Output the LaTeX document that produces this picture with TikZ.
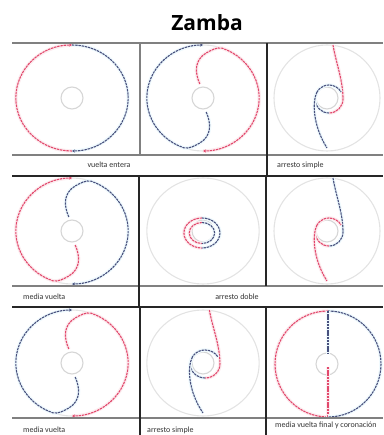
\documentclass[tikz,border=0pt]{standalone}
\usepackage{fontspec}
\setmainfont{Carlito}
\newfontfamily\titulofont{Open Sans}
\usetikzlibrary{arrows.meta}
\definecolor{rojo}{RGB}{226,72,108}
\definecolor{azul}{RGB}{72,80,125}

% media vuelta: #1 goes round the left, #2 round the right
\newcommand{\mediavuelta}[2]{%
  \draw[#1,punta] (3,-14) .. controls (8,-26) and (8,-38) .. (-3,-45)
    .. controls (-8,-48) and (-13,-51) .. (250:53) arc[start angle=250,end angle=90,radius=53];
  \begin{scope}[rotate=180]
    \draw[#2,punta] (3,-14) .. controls (8,-26) and (8,-38) .. (-3,-45)
      .. controls (-8,-48) and (-13,-51) .. (250:53) arc[start angle=250,end angle=90,radius=53];
  \end{scope}}
% arresto simple: #1 upper stem, #2 loop and lower stem
\newcommand{\arrestosimple}[2]{%
  \draw[#1] (6,53) .. controls (9,35) and (16,18) .. (16,-1) arc[start angle=0,end angle=-90,radius=14];
  \draw[#2] (2,-15) arc[start angle=-90,end angle=-330,radius=14];
  \draw[#2] (-10,6) .. controls (-15,-4) and (-14,-28) .. (0,-50);}

\begin{document}
\begin{tikzpicture}[x=1pt,y=1pt,
    rojo/.style={draw=rojo, line width=1.1pt, dash pattern=on 2.4pt off 0.8pt,
      preaction={-, draw=rojo!10, line width=3.6pt, solid}},
    azul/.style={draw=azul, line width=1.1pt, dash pattern=on 2.4pt off 0.8pt,
      preaction={-, draw=cyan!6, line width=3.6pt, solid}},
    punta/.style={-{Stealth[length=3pt,width=3pt]}},
    guia/.style={draw=black!11, line width=1.1pt},
    centro/.style={draw=black!16, line width=1.1pt},
    linea/.style={draw=black!50, line width=1.5pt},
    lineaosc/.style={draw=black!85, line width=1.3pt},
    rotulo/.style={font=\fontsize{8}{9}\selectfont, text=black!80, inner sep=0pt}]
  \useasboundingbox (0,0) rectangle (383,-435);

  \node[font=\titulofont\bfseries\fontsize{21}{24}\selectfont, anchor=base] (titulo) at (207,-31) {Zamba};

  % guide circles
  \foreach \cx/\cy/\sx in {72/98/1.06,203/98/1.06,327/98/1,72/231/1.06,203/231/1.06,327/231/1,72/363/1.06,203/363/1.06,327/364/1}{
    \draw[guia] (\cx,-\cy) ellipse[x radius=53*\sx, y radius=53];
    \draw[centro] (\cx,-\cy) circle[radius=11];
  }

  % row 1
  \begin{scope}[shift={(72,-98)},xscale=1.06]
    \draw[rojo,punta] (270:53) arc[start angle=270,end angle=90,radius=53];
    \draw[azul,punta] (90:53) arc[start angle=90,end angle=-90,radius=53];
  \end{scope}
  \begin{scope}[shift={(203,-98)},xscale=1.06]
    \mediavuelta{azul}{rojo}
  \end{scope}
  \begin{scope}[shift={(327,-98)}]
    \arrestosimple{rojo}{azul}
  \end{scope}

  % row 2
  \begin{scope}[shift={(72,-231)},xscale=1.06]
    \mediavuelta{rojo}{azul}
  \end{scope}
  \begin{scope}[shift={(203,-231)},xscale=1.06]
    \draw[rojo] (-1,13) arc[start angle=90,end angle=270,x radius=17,y radius=15];
    \draw[rojo] (-1,8.5) arc[start angle=90,end angle=270,x radius=12,y radius=10.5];
    \draw[azul] (-1,13) arc[start angle=90,end angle=-90,x radius=17,y radius=15];
    \draw[azul] (-1,8.5) arc[start angle=90,end angle=-90,x radius=12,y radius=10.5];
  \end{scope}
  \begin{scope}[shift={(327,-231)}]
    \arrestosimple{azul}{rojo}
  \end{scope}

  % row 3
  \begin{scope}[shift={(72,-363)},xscale=1.06]
    \mediavuelta{azul}{rojo}
  \end{scope}
  \begin{scope}[shift={(203,-363)},xscale=1.06]
    \arrestosimple{rojo}{azul}
  \end{scope}
  \begin{scope}[shift={(328,-364)}]
    \draw[rojo] (0,53) arc[start angle=90,end angle=270,radius=53];
    \draw[rojo] (0,-3) -- (0,-53);
    \draw[azul] (0,53) arc[start angle=90,end angle=-90,radius=53];
    \draw[azul] (0,53) -- (0,10);
  \end{scope}

  % table rules
  \draw[linea] (12,-43) -- (383,-43);
  \draw[linea] (12,-155) -- (383,-155);
  \draw[lineaosc] (12,-176) -- (383,-176);
  \draw[linea] (12,-286) -- (383,-286);
  \draw[lineaosc] (12,-307) -- (383,-307);
  \draw[linea] (12,-418) -- (383,-418);
  \draw[linea] (140,-43) -- (140,-155);
  \draw[lineaosc] (267,-43) -- (267,-176);
  \draw[lineaosc] (139,-176) -- (139,-307);
  \draw[lineaosc] (266,-176) -- (266,-286);
  \draw[lineaosc] (140,-307) -- (140,-435);
  \draw[lineaosc] (266,-307) -- (266,-435);

  % labels
  \node[rotulo] (r1a) at (109,-165) {vuelta entera};
  \node[rotulo, anchor=west] (r1b) at (277,-165) {arresto simple};
  \node[rotulo, anchor=west] (r2a) at (23,-297) {media vuelta};
  \node[rotulo] (r2b) at (237,-297) {arresto doble};
  \node[rotulo, anchor=west] (r3a) at (23,-430) {media vuelta};
  \node[rotulo, anchor=west] (r3b) at (147,-430) {arresto simple};
  \node[rotulo, anchor=west] (r3c) at (275,-425) {media vuelta final y coronación};
\end{tikzpicture}
\end{document}
